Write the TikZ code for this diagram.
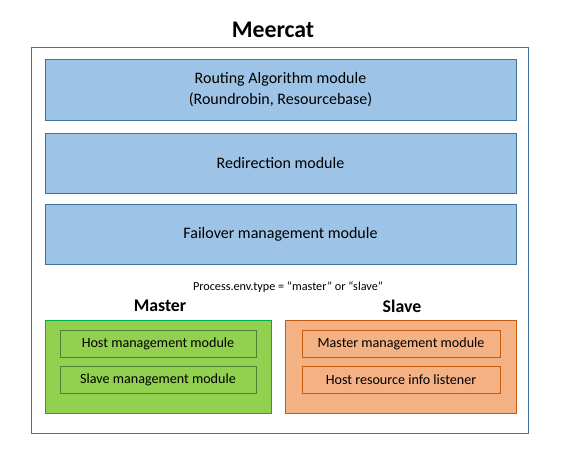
\documentclass[tikz,border=0pt]{standalone}
\usepackage{fontspec}
\setmainfont{Carlito}
\usetikzlibrary{positioning}

\definecolor{frameblue}{HTML}{41719C}
\definecolor{modblue}{HTML}{9DC3E6}
\definecolor{mastergreen}{HTML}{92D050}
\definecolor{masterline}{HTML}{00B050}
\definecolor{innergreen}{HTML}{507E32}
\definecolor{slaveorange}{HTML}{F4B183}
\definecolor{slaveline}{HTML}{C55A11}

\begin{document}
\begin{tikzpicture}[x=1pt,y=-1pt,
    module/.style={draw=frameblue,fill=modblue,line width=1pt,minimum width=471pt,minimum height=60pt,
      align=center,inner sep=0pt,font=\fontsize{16}{21}\selectfont},
    rolebox/.style={line width=1pt,minimum height=93pt,inner sep=0pt},
    submod/.style={line width=1pt,minimum height=27pt,inner sep=0pt,font=\fontsize{14.1}{17}\selectfont},
    rolename/.style={font=\bfseries\fontsize{17.8}{21}\selectfont}]
  \useasboundingbox (0,0) rectangle (561,461);
  % outer frame and title
  \node[draw=frameblue,line width=1pt,minimum width=497pt,minimum height=386pt,inner sep=0pt] (frame) at (279.5,240) {};
  \node[font=\bfseries\fontsize{23.8}{28}\selectfont] (title) at (273,30) {Meercat};
  % common modules
  \node[module,minimum height=61pt] (routing) at (280.5,89.5) {Routing Algorithm module\\(Roundrobin, Resourcebase)};
  \node[module] (redirect) at (280.5,163) {Redirection module};
  \node[module] (failover) at (280.5,234) {Failover management module};
  \node[font=\fontsize{12.2}{15}\selectfont] (envtype) at (288,287) {Process.env.type = “master” or “slave”};
  % master side
  \node[rolename] (mastername) at (160,306) {Master};
  \node[rolebox,draw=masterline,fill=mastergreen,minimum width=226pt] (master) at (158,366.5) {};
  \node[submod,draw=innergreen,fill=mastergreen,minimum width=196pt] (hostmgmt) at (158,343.5) {Host management module};
  \node[submod,draw=innergreen,fill=mastergreen,minimum width=196pt] (slavemgmt) at (158,379.5) {Slave management module};
  % slave side
  \node[rolename] (slavename) at (402,306) {Slave};
  \node[rolebox,draw=slaveline,fill=slaveorange,minimum width=231pt] (slave) at (400.5,366.5) {};
  \node[submod,draw=slaveline,fill=slaveorange,minimum width=198pt] (mastermgmt) at (401,343.5) {Master management module};
  \node[submod,draw=slaveline,fill=slaveorange,minimum width=198pt] (hostinfo) at (401,379.5) {Host resource info listener};
\end{tikzpicture}
\end{document}
